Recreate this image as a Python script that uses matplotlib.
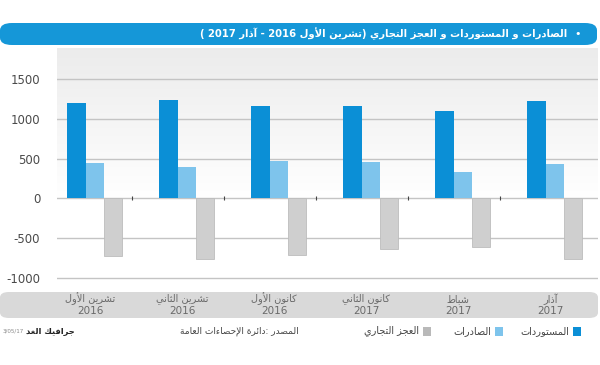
import numpy as np
import matplotlib
matplotlib.use("Agg")
from matplotlib import pyplot as plt
from matplotlib.patches import FancyBboxPatch, Rectangle

# data
months = ["تشرين الأول", "تشرين الثاني", "كانون الأول", "كانون الثاني", "شباط", "آذار"]
years = ["2016", "2016", "2016", "2017", "2017", "2017"]
imports = [1200, 1235, 1160, 1165, 1100, 1225]
exports = [447, 397, 469, 452, 327, 431]
deficit = [-720, -763, -712, -641, -608, -763]
yticks = [-1000, -500, 0, 500, 1000, 1500]

title = "الصادرات و المستوردات و العجز التجاري (تشرين الأول 2016 - آذار 2017 )"
legend_labels = ["المستوردات", "الصادرات", "العجز التجاري"]
source = "المصدر :دائرة الإحصاءات العامة"
credit = "جرافيك الغد"

C_IMP = "#0b8fd6"
C_EXP = "#7ec4ec"
C_DEF = "#cfcfcf"

# --- small arabic shaper (matplotlib has no bidi / joining) ---
_letters = "ءآأؤإئابةتثجحخدذرزسشصضطظعغفقكلمنهوىي"
_nforms = [1, 2, 2, 2, 2, 4, 2, 4, 2, 4, 4, 4, 4, 4, 2, 2, 2, 2, 4, 4, 4, 4,
           4, 4, 4, 4, 4, 4, 4, 4, 4, 4, 4, 2, 2, 4]
FORMS = {}
code = 0xFE80
for ch, n in zip(_letters, _nforms):
    FORMS[ch] = (code, n)
    code += n
LAMALEF = {"آ": 0xFEF5, "أ": 0xFEF7, "إ": 0xFEF9, "ا": 0xFEFB}


def shape(word):
    chars = list(word)
    out = []
    i = 0
    while i < len(chars):
        c = chars[i]
        prev = chars[i - 1] if i > 0 else ""
        prev_joins = prev in FORMS and FORMS[prev][1] == 4
        if c == "ل" and i + 1 < len(chars) and chars[i + 1] in LAMALEF:
            out.append(chr(LAMALEF[chars[i + 1]] + (1 if prev_joins else 0)))
            i += 2
            continue
        if c not in FORMS:
            out.append(c)
            i += 1
            continue
        base, n = FORMS[c]
        nxt = chars[i + 1] if i + 1 < len(chars) else ""
        next_joins = nxt in FORMS and nxt != "ء"
        if n == 4:
            if prev_joins and next_joins:
                g = base + 3
            elif prev_joins:
                g = base + 1
            elif next_joins:
                g = base + 2
            else:
                g = base
        elif n == 2:
            g = base + 1 if prev_joins else base
        else:
            g = base
        out.append(chr(g))
        i += 1
    return "".join(out)


def ar(s):
    mirror = {"(": ")", ")": "("}
    words = []
    for w in s.split(" "):
        if any("\u0600" <= c <= "\u06ff" for c in w):
            w = "".join(mirror.get(c, c) for c in shape(w)[::-1])
        elif w in mirror:
            w = mirror[w]
        words.append(w)
    return " ".join(words[::-1])


plt.rcParams["font.family"] = ["DejaVu Sans"]

W, H = 600, 365
fig = plt.figure(figsize=(6, 3.65), dpi=100)
fig.patch.set_facecolor("white")


def fx(px):
    return px / W


def fy(py):
    return 1 - py / H


# title bar
bar = FancyBboxPatch((fx(0), fy(45)), fx(597), (45 - 23) / H,
                     boxstyle="round,pad=0,rounding_size=0.02",
                     transform=fig.transFigure, facecolor="#1597d8",
                     edgecolor="none", zorder=-1)
fig.patches.append(bar)
fig.text(fx(578), fy(34), "•", color="white", fontsize=8, ha="center", va="center")
fig.text(fx(567), fy(34), ar(title), color="white", fontsize=7.2, fontweight="bold",
         ha="right", va="center")

# main plot
ax = fig.add_axes([fx(57), fy(290), fx(598 - 57), (290 - 48) / H])
x = np.arange(len(months))
w = 0.2
ax.bar(x - w, imports, w, color=C_IMP, zorder=3)
ax.bar(x, exports, w, color=C_EXP, zorder=3)
ax.bar(x + w, deficit, w, color=C_DEF, edgecolor="#bdbdbd", linewidth=0.6, zorder=3)
ax.plot(x[:-1] + 0.4, np.zeros(len(x) - 1), marker="|", ls="none", color="#444444",
        ms=3, mew=0.8, zorder=4)

ax.set_yticks(yticks)
ax.set_yticklabels([str(v) for v in yticks])
ax.tick_params(axis="y", length=0, pad=12, labelsize=8.5, labelcolor="#4a4a4a")
ax.set_xticks([])
for v in yticks:
    ax.axhline(v, color="#c4c4c4", lw=1, zorder=2)
for s in ax.spines.values():
    s.set_visible(False)

# background gradient of the panel
grad = np.linspace(0, 1, 100)[:, None]
top = np.array([0.925, 0.925, 0.925])
bot = np.array([1.0, 1.0, 1.0])
img = top + (bot - top) * np.clip(grad * 1.6, 0, 1)[:, :, None]
ax.imshow(np.repeat(img, 2, axis=1), extent=(-0.41, 5.47, -1150, 1890),
          aspect="auto", origin="upper", zorder=0)
ax.set_xlim(-0.41, 5.47)
ax.set_ylim(-1150, 1890)

# category band
band = FancyBboxPatch((fx(0), fy(318)), fx(598), (318 - 292) / H,
                      boxstyle="round,pad=0,rounding_size=0.015",
                      transform=fig.transFigure, facecolor="#d9d9d9",
                      edgecolor="none", zorder=-1)
fig.patches.append(band)
bax = fig.add_axes([fx(57), fy(318), fx(598 - 57), (318 - 292) / H], sharex=ax)
bax.axis("off")
bax.set_ylim(0, 1)
for i, (m, yr) in enumerate(zip(months, years)):
    bax.text(i - 0.05, 0.73, ar(m), ha="center", va="center", fontsize=7, color="#6a6a6a")
    bax.text(i - 0.05, 0.25, yr, ha="center", va="center", fontsize=7.5, color="#6a6a6a")

# legend row
ly = fy(331)
for px, col, lab in [(577, C_IMP, legend_labels[0]), (499, C_EXP, legend_labels[1]),
                     (427, "#b9b9b9", legend_labels[2])]:
    fig.patches.append(Rectangle((fx(px - 4), ly - 4.5 / H), 8 / W, 9 / H,
                                 transform=fig.transFigure, facecolor=col,
                                 edgecolor="none"))
    fig.text(fx(px - 8), ly, ar(lab), ha="right", va="center", fontsize=7,
             color="#444444")
fig.text(fx(299), ly, ar(source), ha="right", va="center", fontsize=6.5, color="#444444")
fig.text(fx(75), ly, ar(credit), ha="right", va="center", fontsize=6, color="#222222",
         fontweight="bold")
fig.text(fx(3), ly, "3/05/17", ha="left", va="center", fontsize=4, color="#888888")

fig.savefig("out.png", dpi=100, facecolor="white")
